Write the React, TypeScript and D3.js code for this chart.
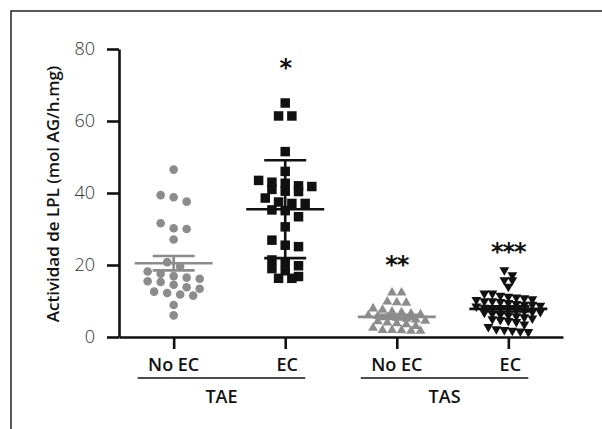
import React, { useEffect, useRef } from 'react'
import * as d3 from 'd3'

// categories / groups
const categories = ['No EC', 'EC', 'No EC', 'EC']
const groupNames = ['TAE', 'TAS']
const yTicks = [0, 20, 40, 60, 80]

// values (mol AG/h.mg)
const taeNoEc = [46.5, 39.4, 38.8, 37.6, 31.6, 30.2, 30.0, 27.1, 20.8, 19.6, 18.2, 17.6, 16.9, 16.5, 16.2, 15.5, 15.3, 14.5, 13.8, 13.4, 12.6, 12.2, 11.8, 11.5, 8.9, 6.0]
const taeEc = [65.0, 61.4, 61.4, 51.5, 46.0, 43.5, 43.0, 42.7, 42.0, 41.8, 41.0, 40.5, 40.4, 38.6, 37.5, 37.1, 37.1, 35.3, 35.1, 33.4, 30.6, 26.9, 25.5, 25.1, 21.4, 20.9, 19.8, 19.0, 18.4, 16.8, 16.3, 16.3]
const tasNoEc = [12.3, 12.3, 9.8, 9.6, 9.5, 7.9, 7.5, 7.0, 6.8, 6.5, 6.3, 6.0, 5.8, 5.5, 5.3, 5.0, 4.8, 4.5, 4.3, 4.0, 3.8, 3.5, 3.0, 2.5, 1.9, 1.8, 1.7, 1.7, 1.9]
const tasEc = [18.6, 17.2, 15.8, 15.8, 14.0, 12.1, 12.1, 11.5, 11.2, 11.0, 10.8, 10.5, 10.3, 10.0, 10.0, 9.8, 9.5, 9.2, 9.0, 9.0, 8.7, 8.5, 8.2, 8.0, 8.0, 7.8, 7.5, 7.2, 7.0, 7.0, 6.8, 6.5, 6.2, 6.0, 5.8, 5.5, 5.2, 5.0, 4.8, 4.5, 4.2, 3.5, 2.8, 2.2, 2.0, 1.8, 1.6, 1.4]

// mean and error bars as drawn
const means = [20.5, 35.5, 5.6, 7.8]
const errors = [2.0, 13.6, 0.6, 0.7]

// significance marks
const stars = ['', '*', '**', '***']
const starValues = [0, 76, 21.5, 25]

const series = [taeNoEc, taeEc, tasNoEc, tasEc]

// drawing styles per series
const styles = [
  { shape: d3.symbolCircle, size: 58, color: '#8c8c8c', rot: 0, step: 13, bin: 8 },
  { shape: d3.symbolSquare, size: 90, color: '#111', rot: 0, step: 13.3, bin: 8 },
  { shape: d3.symbolTriangle, size: 42, color: '#8c8c8c', rot: 0, step: 9.5, bin: 6 },
  { shape: d3.symbolTriangle, size: 42, color: '#111', rot: 180, step: 8, bin: 6 },
]

// prism-like scatter: bin into rows, spread each row horizontally
function scatterLayout(values: number[], y: (v: number) => number, step: number, bin: number) {
  const sorted = [...values].sort((a, b) => b - a)
  const rows: number[][] = []
  let startY = -Infinity
  sorted.forEach((v) => {
    const py = y(v)
    if (rows.length && py - startY < bin) rows[rows.length - 1].push(v)
    else {
      rows.push([v])
      startY = py
    }
  })
  const out: { v: number; dx: number }[] = []
  rows.forEach((row) => {
    const n = row.length
    row.forEach((v, i) => out.push({ v, dx: (i - (n - 1) / 2) * step }))
  })
  return out
}

function App() {
  const ref = useRef<SVGSVGElement>(null)

  useEffect(() => {
    const svg = d3.select(ref.current)
    svg.selectAll('*').remove()

    const x = d3.scalePoint<number>().domain([0, 1, 2, 3]).range([119, 563]).padding(0.49)
    const y = d3.scaleLinear().domain([0, 80]).range([337, 49])
    const font = '"Open Sans", "DejaVu Sans", sans-serif'

    // frame
    svg.append('path').attr('d', 'M11,429V11H602').attr('fill', 'none').attr('stroke', '#222').attr('stroke-width', 1.5)

    // points
    series.forEach((vals, gi) => {
      const st = styles[gi]
      const sym = d3.symbol().type(st.shape).size(st.size)
      const pts = scatterLayout(vals, y, st.step, st.bin)
      svg.append('g')
        .selectAll('path')
        .data(pts)
        .join('path')
        .attr('d', sym() as string)
        .attr('transform', (d) => `translate(${x(gi)! + d.dx},${y(d.v)}) rotate(${st.rot})`)
        .attr('fill', st.color)
    })

    // mean + error bars
    means.forEach((m, gi) => {
      const cx = x(gi)!
      const c = styles[gi].color
      const g = svg.append('g').attr('stroke', c).attr('stroke-width', 2.6)
      g.append('line').attr('x1', cx - 39).attr('x2', cx + 39).attr('y1', y(m)).attr('y2', y(m))
      g.append('line').attr('x1', cx).attr('x2', cx).attr('y1', y(m + errors[gi])).attr('y2', y(m - errors[gi]))
      ;[m + errors[gi], m - errors[gi]].forEach((e) => {
        g.append('line').attr('x1', cx - 21).attr('x2', cx + 21).attr('y1', y(e)).attr('y2', y(e))
      })
    })

    // y axis
    const yAxis = svg.append('g').attr('transform', 'translate(119,0)')
      .call(d3.axisLeft(y).tickValues(yTicks).tickSize(12).tickPadding(12).tickSizeOuter(0))
    yAxis.select('.domain').attr('stroke', '#111').attr('stroke-width', 2.6)
    yAxis.selectAll('.tick line').attr('stroke', '#111').attr('stroke-width', 2.6)
    yAxis.selectAll('.tick text').attr('font-family', font).attr('font-size', 18).attr('font-weight', 300).attr('fill', '#333')

    // x axis
    const xAxis = svg.append('g').attr('transform', 'translate(0,337)')
      .call(d3.axisBottom(x).tickSize(12).tickSizeOuter(0).tickFormat(() => ''))
    xAxis.select('.domain').attr('stroke', '#111').attr('stroke-width', 2.6)
    xAxis.selectAll('.tick line').attr('stroke', '#111').attr('stroke-width', 2.6)

    svg.append('g').selectAll('text').data(categories).join('text')
      .attr('x', (d, i) => x(i)! + (d === 'EC' ? 2 : 0))
      .attr('y', 371)
      .attr('text-anchor', 'middle')
      .attr('font-family', font).attr('font-size', 18).attr('font-weight', 600).attr('fill', '#111')
      .text((d) => d)

    // group underline + name
    groupNames.forEach((name, k) => {
      const x0 = x(k * 2)! - 36
      const x1 = x(k * 2 + 1)! + 20
      svg.append('line').attr('x1', x0).attr('x2', x1).attr('y1', 378).attr('y2', 378).attr('stroke', '#111').attr('stroke-width', 1.3)
      svg.append('text').attr('x', (x0 + x1) / 2).attr('y', 403).attr('text-anchor', 'middle')
        .attr('font-family', font).attr('font-size', 18).attr('font-weight', 600).attr('fill', '#111')
        .text(name)
    })

    // significance
    svg.append('g').selectAll('text').data(stars).join('text')
      .attr('x', (d, i) => x(i)!)
      .attr('y', (d, i) => y(starValues[i]) + 13)
      .attr('text-anchor', 'middle')
      .attr('font-family', '"DejaVu Sans", sans-serif').attr('font-size', 24).attr('font-weight', 'bold').attr('fill', '#111')
      .attr('letter-spacing', -1)
      .text((d) => d)

    // y title
    svg.append('text')
      .attr('transform', 'translate(59,194) rotate(-90)')
      .attr('text-anchor', 'middle')
      .attr('font-family', font).attr('font-size', 17).attr('font-weight', 600).attr('fill', '#111')
      .text('Actividad de LPL (mol AG/h.mg)')
  })

  return (
    <svg ref={ref} width={602} height={429} style={{ position: 'absolute', top: 0, left: 0, background: '#fff' }}></svg>
  )
}

export default App
